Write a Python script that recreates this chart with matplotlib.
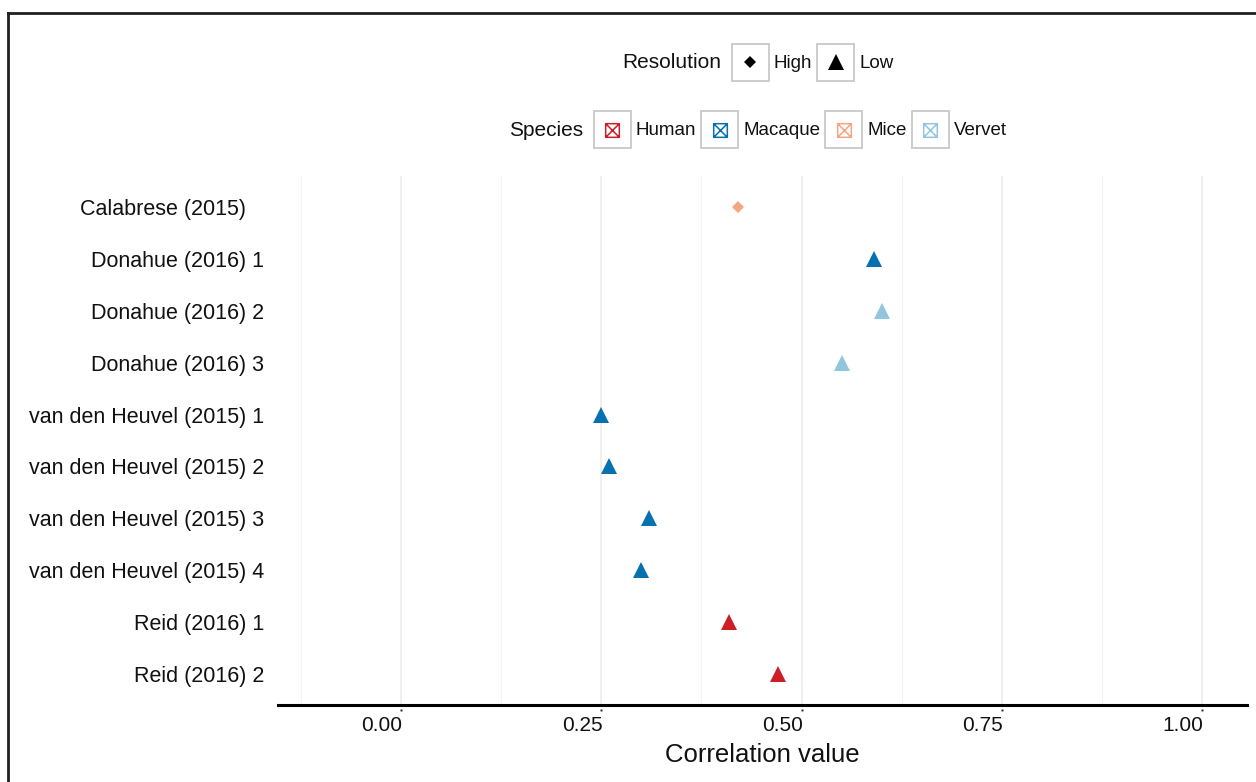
import matplotlib
matplotlib.use("Agg")
import matplotlib.pyplot as plt
from matplotlib.transforms import IdentityTransform, ScaledTranslation
from matplotlib.lines import Line2D
from matplotlib.patches import Rectangle
from matplotlib.path import Path

plt.rcParams['font.family'] = ['Liberation Sans', 'DejaVu Sans']

# ---------------- data ----------------
studies = ["Calabrese (2015)   ", "Donahue (2016) 1", "Donahue (2016) 2", "Donahue (2016) 3",
           "van den Heuvel (2015) 1", "van den Heuvel (2015) 2", "van den Heuvel (2015) 3",
           "van den Heuvel (2015) 4", "Reid (2016) 1", "Reid (2016) 2"]
correlation = [0.42, 0.59, 0.60, 0.55, 0.25, 0.26, 0.31, 0.30, 0.41, 0.47]
species = ["Mice", "Macaque", "Vervet", "Vervet", "Macaque", "Macaque", "Macaque",
           "Macaque", "Human", "Human"]
resolution = ["High", "Low", "Low", "Low", "Low", "Low", "Low", "Low", "Low", "Low"]

species_levels = ["Human", "Macaque", "Mice", "Vervet"]
species_colors = ["#CF1F26", "#0571B0", "#F4A582", "#92C5DE"]
resolution_levels = ["High", "Low"]
x_ticks = [0.0, 0.25, 0.50, 0.75, 1.00]
x_tick_labels = ["0.00", "0.25", "0.50", "0.75", "1.00"]
x_minor = [-0.125, 0.125, 0.375, 0.625, 0.875]
x_title = "Correlation value"

# ---------------- styles ----------------
W, H = 1256, 782
color_map = dict(zip(species_levels, species_colors))
marker_map = {"High": "D", "Low": "^"}
size_map = {"High": 6.2, "Low": 11.5}

sq_cross = Path([(-1, -1), (1, -1), (1, 1), (-1, 1), (-1, -1), (-1, -1), (1, 1), (-1, 1), (1, -1)],
                [Path.MOVETO, Path.LINETO, Path.LINETO, Path.LINETO, Path.CLOSEPOLY,
                 Path.MOVETO, Path.LINETO, Path.MOVETO, Path.LINETO])

fig = plt.figure(figsize=(W / 100, H / 100), dpi=100)
ax_left, ax_right, ax_top, ax_bottom = 278, 1247, 176, 705
ax = fig.add_axes([ax_left / W, (H - ax_bottom) / H, (ax_right - ax_left) / W, (ax_bottom - ax_top) / H])

ypos = list(range(len(studies)))
for y, x, sp, res in zip(ypos, correlation, species, resolution):
    ax.plot([x], [y], linestyle="none", marker=marker_map[res], markersize=size_map[res],
            color=color_map[sp], markeredgewidth=0, zorder=3)

ax.set_xlim(-0.1535, 1.0559)
ax.set_ylim(len(studies) - 1 + 0.6, -0.6)
ax.set_yticks(ypos)
ax.set_yticklabels(studies, fontsize=15.5, color="#111111")
ax.set_xticks(x_ticks)
ax.set_xticklabels(x_tick_labels, fontsize=15, color="#111111")
ax.set_xticks(x_minor, minor=True)
ax.tick_params(axis="y", length=0, pad=10)
ax.tick_params(axis="x", which="both", length=0, pad=8)
for lab in ax.get_xticklabels():
    lab.set_ha("right")
    lab.set_transform(lab.get_transform() + ScaledTranslation(1 / 100, 0, fig.dpi_scale_trans))

ax.grid(which="major", axis="x", color="#EBEBEB", linewidth=1.1)
ax.grid(which="minor", axis="x", color="#F5F5F5", linewidth=0.8)
ax.grid(which="both", axis="y", visible=False)
ax.set_axisbelow(True)
for s in ["left", "right", "top"]:
    ax.spines[s].set_visible(False)
ax.spines["bottom"].set_linewidth(2.2)
ax.spines["bottom"].set_color("black")

# tiny tick dots below axis
dot_tr = ax.get_xaxis_transform() + ScaledTranslation(0, -5 / 100, fig.dpi_scale_trans)
ax.plot(x_ticks, [0] * len(x_ticks), linestyle="none", marker="s", markersize=1.4,
        color="#222222", markeredgewidth=0, transform=dot_tr, clip_on=False)

ax.set_xlabel(x_title, fontsize=18.5, color="#111111", labelpad=6)

# ---------------- figure frame ----------------
fig.add_artist(Line2D([8, 8], [H - 13, -20], transform=IdentityTransform(), color="#231F20",
                      linewidth=2, solid_capstyle="projecting"))
fig.add_artist(Line2D([8, W + 20], [H - 13, H - 13], transform=IdentityTransform(),
                      color="#231F20", linewidth=2, solid_capstyle="projecting"))

# ---------------- legends ----------------
renderer = fig.canvas.get_renderer()
ID = IdentityTransform()


def text_width(s, size):
    t = fig.text(0, 0, s, fontsize=size, transform=ID)
    w = t.get_window_extent(renderer=renderer).width
    t.remove()
    return w


def legend_row(title, labels, draw_key, y_img, cx, title_size=15, label_size=13.5,
               box=37, gap_title=10, gap_label=5, gap_item=5):
    tw = text_width(title, title_size)
    lws = [text_width(l, label_size) for l in labels]
    total = tw + gap_title + sum(box + gap_label + lw for lw in lws) + gap_item * (len(labels) - 1)
    x = cx - total / 2
    yd = H - y_img
    fig.text(x, yd - 1, title, fontsize=title_size, transform=ID, ha="left", va="center",
             color="#111111")
    x += tw + gap_title
    for i, (lab, lw) in enumerate(zip(labels, lws)):
        fig.add_artist(Rectangle((x, yd - box / 2), box, box, transform=ID, fill=True,
                                 facecolor="white", edgecolor="#CCCCCC", linewidth=1.4))
        draw_key(lab, x + box / 2, yd)
        x += box + gap_label
        fig.text(x, yd - 1, lab, fontsize=label_size, transform=ID, ha="left", va="center",
                 color="#111111")
        x += lw + gap_item


def res_key(lab, x, y):
    fig.add_artist(Line2D([x], [y], transform=ID, linestyle="none", marker=marker_map[lab],
                          markersize=size_map[lab], color="black", markeredgewidth=0))


def sp_key(lab, x, y):
    fig.add_artist(Line2D([x], [y], transform=ID, linestyle="none", marker=sq_cross,
                          markersize=9.8, color=color_map[lab], markerfacecolor="none",
                          markeredgewidth=1.1))


legend_row("Resolution", resolution_levels, res_key, 62, 758)
legend_row("Species", species_levels, sp_key, 129.5, 758)

fig.savefig("out.png", dpi=100)
